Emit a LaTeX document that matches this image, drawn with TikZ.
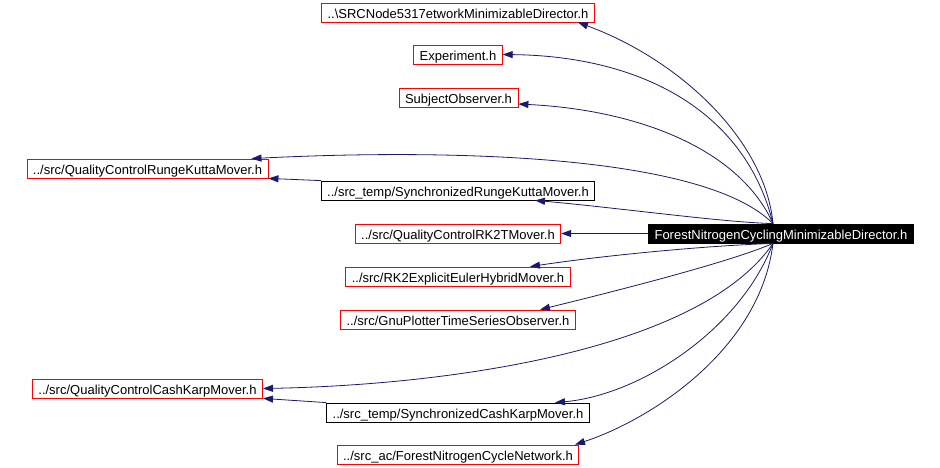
\documentclass[tikz,border=0pt]{standalone}
\usepackage{fontspec}
\setmainfont{Liberation Sans}
\usetikzlibrary{arrows.meta}
\definecolor{edgeblue}{RGB}{25,25,112}

\begin{document}
\begin{tikzpicture}[x=1pt,y=-1pt,font=\fontsize{13}{15}\selectfont,
    file/.style={draw=red,line width=0.8pt,inner xsep=6pt,inner ysep=0pt,minimum height=19pt,text height=12pt,text depth=0pt},
    tempfile/.style={file,draw=black},
    mainfile/.style={file,draw=black,fill=black,text=white},
    dep/.style={draw=edgeblue,line width=0.8pt,-{Triangle[length=10pt,width=7pt]}}]
    \useasboundingbox (0,0) rectangle (940,467);

    \node[mainfile] (main) at (781,233.5) {ForestNitrogenCyclingMinimizableDirector.h};

    \node[file] (srcnode) at (458,12.5) {..\textbackslash SRCNode5317etworkMinimizableDirector.h};
    \node[file] (experiment) at (458,54.5) {Experiment.h};
    \node[file] (subjobs) at (458.5,97.5) {SubjectObserver.h};
    \node[file] (qcrk) at (147.5,168.5) {../src/QualityControlRungeKuttaMover.h};
    \node[tempfile] (syncrk) at (458,190.5) {../src\_temp/SynchronizedRungeKuttaMover.h};
    \node[file] (qcrk2t) at (458,233.5) {../src/QualityControlRK2TMover.h};
    \node[file] (rk2euler) at (458,276.5) {../src/RK2ExplicitEulerHybridMover.h};
    \node[file] (gnuplot) at (458,319.5) {../src/GnuPlotterTimeSeriesObserver.h};
    \node[file] (qcck) at (147.5,388.5) {../src/QualityControlCashKarpMover.h};
    \node[tempfile] (syncck) at (458,412.5) {../src\_temp/SynchronizedCashKarpMover.h};
    \node[file] (forestnet) at (458,454.5) {../src\_ac/ForestNitrogenCycleNetwork.h};

    \draw[dep] ([xshift=-8pt]main.north) .. controls (765,140) and (680,60) .. ([xshift=120pt]srcnode.south);
    \draw[dep] ([xshift=-8pt]main.north) .. controls (745,110) and (640,56) .. (experiment.east);
    \draw[dep] ([xshift=-8pt]main.north) .. controls (740,150) and (640,110) .. ([yshift=-6.5pt]subjobs.east);
    \draw[dep] ([xshift=-8pt]main.north) .. controls (700,150) and (420,150) .. ([xshift=-17pt]qcrk.north east);
    \draw[dep] (syncrk.north west) -- (qcrk.south east);
    \draw[dep] ([xshift=-8pt]main.north) .. controls (720,222) and (620,208) .. ([xshift=77pt]syncrk.south);
    \draw[dep] (main.west) -- (qcrk2t.east);

    \draw[dep] ([xshift=-8pt]main.south) .. controls (700,246) and (600,256) .. ([xshift=72pt]rk2euler.north);
    \draw[dep] ([xshift=-8pt]main.south) .. controls (730,262) and (620,290) .. ([xshift=82pt]gnuplot.north);
    \draw[dep] ([xshift=-8pt]main.south) .. controls (700,350) and (450,385) .. (qcck.east);
    \draw[dep] (syncck.north west) -- (qcck.south east);
    \draw[dep] ([xshift=-8pt]main.south) .. controls (740,330) and (640,395) .. ([xshift=97pt]syncck.north);
    \draw[dep] ([xshift=-8pt]main.south) .. controls (760,350) and (650,420) .. ([xshift=117pt]forestnet.north);
\end{tikzpicture}
\end{document}
